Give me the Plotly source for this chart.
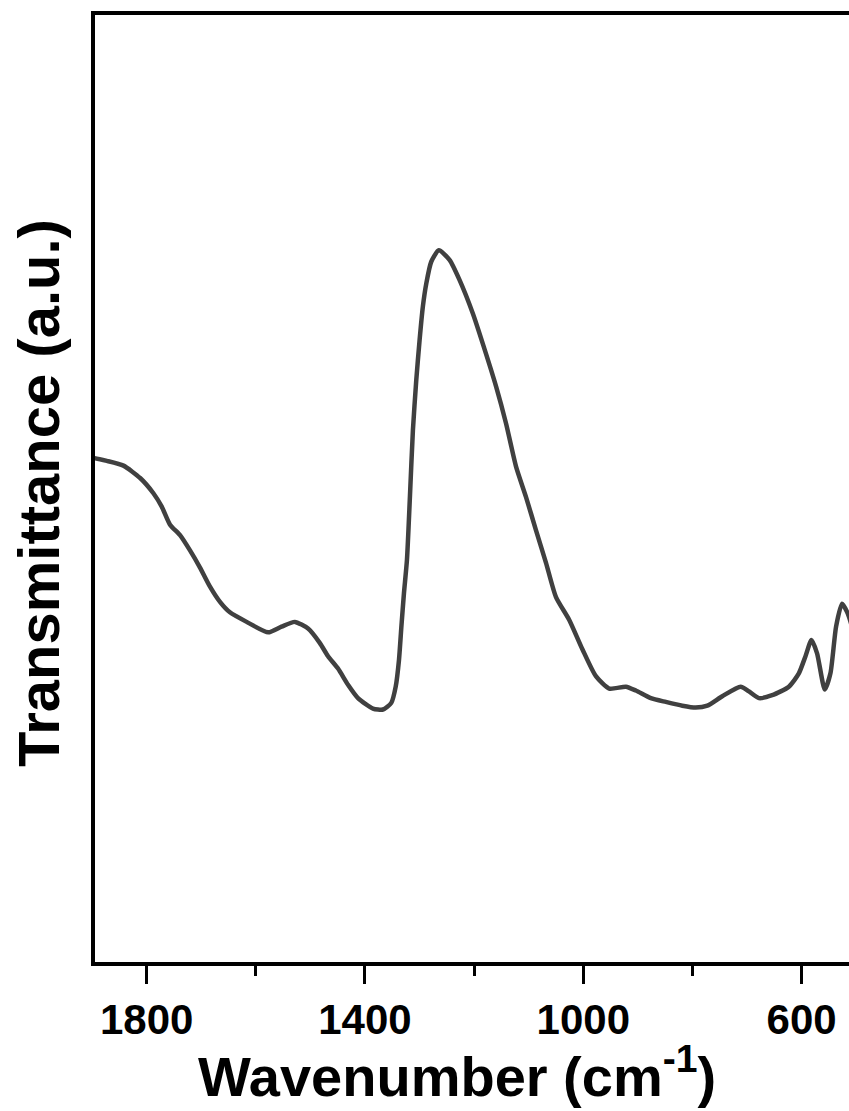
import plotly.graph_objects as go

# FTIR spectrum (wavenumber in cm^-1, transmittance in arbitrary units)
wavenumber = [
    1900, 1897.5, 1873, 1842.6, 1812, 1787.7, 1772.4, 1757.2, 1738.9, 1720.6,
    1702.3, 1684.0, 1665.7, 1647.5, 1616.9, 1577.4, 1552.9, 1528.6, 1504.3,
    1482.9, 1467.7, 1449.4, 1431.1, 1412.8, 1385.4, 1367.1, 1351.8, 1343.7,
    1337.7, 1333.3, 1328.6, 1323.1, 1317.6, 1312.2, 1306.0, 1299.9, 1293.9,
    1287.7, 1278.6, 1264.7, 1245.1, 1226.8, 1202.5, 1183.0, 1159.7, 1141.4,
    1123.2, 1104.9, 1086.6, 1068.3, 1050.0, 1025.7, 1001.4, 976.9, 952.5,
    921.9, 903.7, 876.2, 848.8, 818.5, 794.0, 772.7, 745.3, 711.7, 696.3,
    678.1, 653.8, 623.3, 605.0, 592.8, 581.8, 571.6, 557.5, 547.1, 536.8,
    525.9, 515.5, 505.0,
]
transmittance = [
    53.2, 53.2, 52.9, 52.4, 51.1, 49.5, 48.1, 46.2, 45.1, 43.5,
    41.7, 39.7, 38.1, 37.0, 36.0, 34.9, 35.5, 36.0, 35.3,
    33.8, 32.4, 31.1, 29.4, 28.0, 26.9, 26.8, 27.5, 29.2,
    32.0, 35.5, 39.0, 42.5, 49.2, 56.1, 61.4, 65.6, 69.1,
    71.5, 73.8, 75.0, 74.0, 71.9, 68.4, 65.0, 60.7, 56.8,
    52.3, 49.1, 45.6, 42.2, 38.6, 36.2, 33.1, 30.3, 29.0,
    29.2, 28.8, 28.0, 27.6, 27.2, 27.0, 27.2, 28.2, 29.2, 28.7,
    28.0, 28.3, 29.2, 30.6, 32.4, 34.1, 32.7, 28.9, 30.6, 35.5,
    37.9, 36.9, 35.0,
]
x_ticks = [1800, 1400, 1000, 600]
x_tick_labels = ["1800", "1400", "1000", "600"]
x_minor_ticks = [1600, 1200, 800]

FONT = "Arial, 'Liberation Sans', sans-serif"

fig = go.Figure(
    go.Scatter(
        x=wavenumber,
        y=transmittance,
        mode="lines",
        line=dict(color="#404040", width=4.5, shape="spline", smoothing=0.6),
        showlegend=False,
        hoverinfo="skip",
    )
)

fig.update_layout(
    width=849,
    height=1111,
    margin=dict(l=95, r=0, t=15, b=149),
    paper_bgcolor="white",
    plot_bgcolor="white",
    font=dict(family=FONT, color="black"),
    xaxis=dict(
        range=[1894.7, 513.1],
        tickmode="array",
        tickvals=x_ticks,
        ticktext=[f"<b>{t}</b>" for t in x_tick_labels],
        tickfont=dict(size=42, family=FONT, color="black"),
        ticks="outside",
        ticklen=18,
        tickwidth=3,
        tickcolor="black",
        minor=dict(ticks="outside", ticklen=10, tickwidth=3, tickcolor="black",
                   tickmode="array", tickvals=x_minor_ticks),
        showline=True,
        linewidth=4,
        linecolor="black",
        mirror=True,
        showgrid=False,
        zeroline=False,
    ),
    yaxis=dict(
        range=[0.3, 99.7],
        showticklabels=False,
        ticks="",
        showline=True,
        linewidth=4,
        linecolor="black",
        showgrid=False,
        zeroline=False,
    ),
    annotations=[
        dict(
            text="<b>Wavenumber (cm<sup>-1</sup>)</b>",
            xref="paper", yref="paper",
            x=(457 - 95) / (849 - 95), y=-(1072 - 962) / (962 - 15),
            xanchor="center", yanchor="middle",
            showarrow=False,
            font=dict(size=56, family=FONT, color="black"),
        ),
        dict(
            text="<b>Transmittance (a.u.)</b>",
            xref="paper", yref="paper",
            x=-(95 - 38) / (849 - 95), y=(962 - 493) / (962 - 15),
            xanchor="center", yanchor="middle",
            textangle=-90,
            showarrow=False,
            font=dict(size=58, family=FONT, color="black"),
        ),
    ],
)

fig.write_html("out.html")
